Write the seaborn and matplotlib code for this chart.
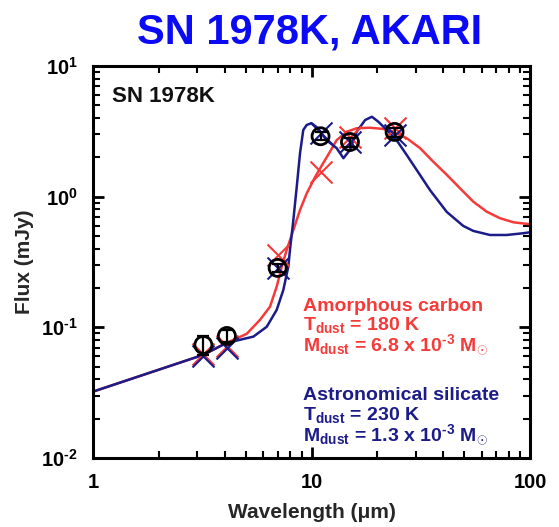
import numpy as np
import pandas as pd
import matplotlib
matplotlib.use("Agg")
import matplotlib.pyplot as plt
import seaborn as sns
from matplotlib.ticker import LogLocator, FuncFormatter, NullFormatter

# ---------------- data ----------------
carbon_wl = [1.0, 3.19, 4.08, 5.05, 5.81, 6.46, 6.93, 7.31, 7.70, 8.26, 8.86, 9.51, 10.4,
             11.3, 12.15, 13.04, 14.5, 16.1, 18.5, 21.3, 24.5, 27.3, 31.4, 36.1, 41.6,
             47.8, 55.0, 63.4, 72.9, 83.9, 100.0]
carbon_flux = [0.0322, 0.0615, 0.0759, 0.0891, 0.114, 0.144, 0.205, 0.291, 0.391, 0.556, 0.791,
               1.06, 1.42, 1.80, 2.21, 2.71, 3.14, 3.34, 3.37, 3.30, 3.05, 2.80, 2.35, 1.85,
               1.47, 1.16, 0.916, 0.767, 0.684, 0.637, 0.615]

silicate_wl = [1.0, 3.19, 4.08, 5.42, 6.24, 6.93, 7.43, 7.83, 7.97, 8.26, 8.56, 8.86, 9.17,
               9.51, 10.0, 10.7, 11.7, 13.04, 14.0, 15.0, 16.1, 17.6, 18.9, 20.2, 22.1, 24.5,
               27.3, 30.3, 34.9, 41.6, 49.5, 55.0, 65.6, 78.2, 93.1, 100.0]
silicate_flux = [0.0322, 0.0615, 0.0759, 0.0849, 0.101, 0.136, 0.193, 0.291, 0.391, 0.664, 1.19,
                 2.15, 3.24, 3.54, 3.65, 3.34, 2.71, 2.35, 1.97, 2.28, 3.14, 3.86, 4.09, 3.75,
                 3.24, 2.71, 2.08, 1.60, 1.12, 0.764, 0.597, 0.547, 0.509, 0.509, 0.525, 0.534]

obs_wl = [3.2, 4.1, 7.0, 11.0, 15.0, 24.0]
obs_flux = [0.0733, 0.0859, 0.285, 2.9, 2.62, 3.13]
obs_err = [0.012, 0.009, 0.02, 0.2, 0.2, 0.25]

carbon_band = [0.062, 0.072, 0.358, 1.55, 2.88, 3.34]
silicate_band = [0.060, 0.070, 0.284, 3.05, 2.63, 2.96]

models = ["Amorphous carbon", "Astronomical silicate"]
RED = "#f53a3a"
NAVY = "#1b1b8a"

# ---------------- style ----------------
sns.set_theme(style="ticks")
plt.rcParams['font.family'] = ['Liberation Sans', 'DejaVu Sans']
plt.rcParams['mathtext.fontset'] = 'custom'
plt.rcParams['mathtext.rm'] = 'Liberation Sans'
plt.rcParams['mathtext.bf'] = 'Liberation Sans:bold'
plt.rcParams['mathtext.it'] = 'Liberation Sans:italic'
plt.rcParams['mathtext.sf'] = 'Liberation Sans'

W, H = 559, 527
fig = plt.figure(figsize=(W / 100, H / 100), dpi=100)
L, R, T, B = 93, 530, 66, 458
ax = fig.add_axes([L / W, 1 - B / H, (R - L) / W, (B - T) / H])

curves = pd.DataFrame({
    "wl": carbon_wl + silicate_wl,
    "flux": carbon_flux + silicate_flux,
    "model": [models[0]] * len(carbon_wl) + [models[1]] * len(silicate_wl),
})
ax.set_xscale("log")
ax.set_yscale("log")
sns.lineplot(data=curves, x="wl", y="flux", hue="model", hue_order=models,
             palette={models[0]: RED, models[1]: NAVY}, sort=False, estimator=None,
             lw=1.8, legend=False, ax=ax, solid_joinstyle="round")

band = pd.DataFrame({"wl": obs_wl, "c": carbon_band, "s": silicate_band,
                     "obs": obs_flux})
sns.scatterplot(data=band, x="wl", y="c", marker="x", s=250, color=RED,
                linewidth=1.5, ax=ax, zorder=4)
sns.scatterplot(data=band, x="wl", y="s", marker="x", s=250, color=NAVY,
                linewidth=1.5, ax=ax, zorder=5)
sns.scatterplot(data=band, x="wl", y="obs", marker="o", s=150, color="black",
                linewidth=2.0, ax=ax, zorder=6)
coll = ax.collections[-1]
coll.set_facecolor("none")
coll.set_edgecolor("black")
ax.errorbar(obs_wl, obs_flux, yerr=obs_err, fmt="none", ecolor="black",
            elinewidth=1.6, capsize=4, capthick=1.6, zorder=7)

ax.set_xlim(1, 100)
ax.set_ylim(1e-2, 1e1)

# ticks
ax.xaxis.set_major_locator(LogLocator(base=10))
ax.xaxis.set_minor_locator(LogLocator(base=10, subs=np.arange(2, 10)))
ax.yaxis.set_major_locator(LogLocator(base=10))
ax.yaxis.set_minor_locator(LogLocator(base=10, subs=np.arange(2, 10)))
ax.xaxis.set_major_formatter(FuncFormatter(lambda v, p: f"{v:g}"))
ax.xaxis.set_minor_formatter(NullFormatter())


def ylab(v, p):
    e = int(round(np.log10(v)))
    es = ("\u2010%d" % abs(e)) if e < 0 else "%d" % e
    return r"$\mathbf{10^{%s}}$" % es


ax.yaxis.set_major_formatter(FuncFormatter(ylab))
ax.yaxis.set_minor_formatter(NullFormatter())
ax.tick_params(which="both", direction="in", top=True, right=True, colors="black")
ax.tick_params(which="major", length=8, width=2.0, labelsize=14.5, pad=11)
ax.tick_params(which="minor", length=5, width=1.5)
for lab in ax.get_xticklabels() + ax.get_yticklabels():
    lab.set_fontweight("bold")
for s in ax.spines.values():
    s.set_linewidth(2.2)
    s.set_color("black")

ax.set_xlabel("Wavelength (μm)", fontsize=15, fontweight="bold", labelpad=8)
ax.set_ylabel("Flux (mJy)", fontsize=15, fontweight="bold", labelpad=5)

# texts
def ftext(x, y, s, **kw):
    fig.text(x / W, 1 - y / H, s, va="baseline", **kw)

ftext(310, 43, "SN 1978K, AKARI", ha="center", fontsize=30, fontweight="bold", color="#0a0af5")
ftext(112, 102, "SN 1978K", ha="left", fontsize=16, fontweight="bold", color="#111111")

fs = 14
ftext(303, 311, "Amorphous carbon", fontsize=fs, fontweight="bold", color=RED)
ftext(303, 330, r"T$_{\mathbf{dust}}$ = 180 K", fontsize=fs, fontweight="bold", color=RED)
ftext(303, 350, "M$_{\\mathbf{dust}}$ = 6.8 x 10$^{\\mathbf{\u20103}}$ M$_{\\odot}$", fontsize=fs,
      fontweight="bold", color=RED)
ftext(303, 400, "Astronomical silicate", fontsize=fs, fontweight="bold", color=NAVY)
ftext(303, 420, r"T$_{\mathbf{dust}}$ = 230 K", fontsize=fs, fontweight="bold", color=NAVY)
ftext(303, 440, "M$_{\\mathbf{dust}}$ = 1.3 x 10$^{\\mathbf{\u20103}}$ M$_{\\odot}$", fontsize=fs,
      fontweight="bold", color=NAVY)

fig.savefig("out.png", dpi=100)
